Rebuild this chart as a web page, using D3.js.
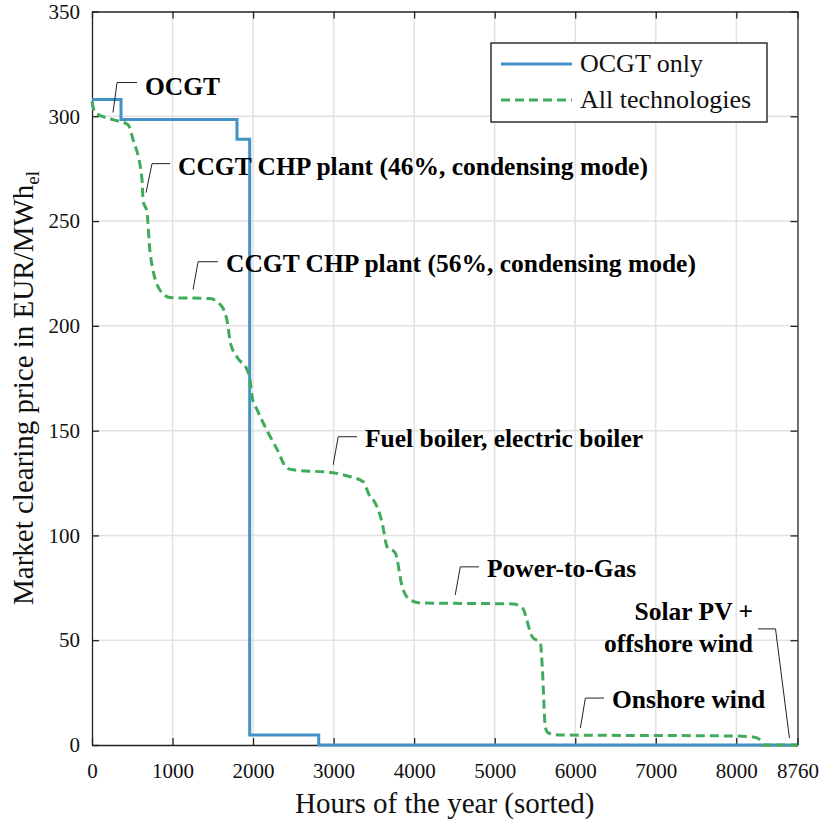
<!DOCTYPE html>
<html><head><meta charset="utf-8">
<script src="https://cdn.jsdelivr.net/npm/d3@7"></script>
<style>body{margin:0;background:#fff}</style>
</head><body>
<svg id="c" width="830" height="830"></svg>
<script>
// ---- data ----
const xTicks = [0,1000,2000,3000,4000,5000,6000,7000,8000,8760];
const yTicks = [0,50,100,150,200,250,300,350];
// OCGT only (step curve): hours, price
const ocgtHours = [0, 360, 360, 1800, 1800, 1958, 1958, 2815, 2815, 8760];
const ocgtPrice = [308, 308, 298.5, 298.5, 289, 289, 4.8, 4.8, 0, 0];
// All technologies (sorted price duration curve)
const allHours = [0,37,261,447,509,621,634,683,721,845,969,1466,1615,1690,1715,1802,1926,1963,1988,2050,2174,2299,2423,2497,2995,3206,3367,3454,3492,3603,3665,3765,3852,3951,4075,5231,5343,5467,5567,5591,5629,5666,5815,7965,8213,8300,8338,8760];
const allPrice = [307,301.8,298.4,296,289,270,260,254,235,217,213.5,213,209,199.6,192.4,185,179,174,166,160,150,141,132,131.3,129.9,128,125.6,118.4,117,106,94.5,91.7,75.4,69.2,67.8,67.3,65.4,51.6,48.7,37.2,8.6,5.7,4.8,4.3,3.8,2.4,0,0];
const seriesNames = ["OCGT only","All technologies"];
// annotations: label lines, anchor point on curve (hours, price), elbow of leader line
const annLabels = [["OCGT"],["CCGT CHP plant (46%, condensing mode)"],["CCGT CHP plant (56%, condensing mode)"],["Fuel boiler, electric boiler"],["Power-to-Gas"],["Onshore wind"],["Solar PV +","offshore wind"]];
const annAnchorH = [261, 671, 1255, 2995, 4510, 6064, 8660];
const annAnchorP = [301.8, 263.6, 217.3, 133.7, 71.6, 8.1, 3.3];
const annElbowH = [311, 745, 1317, 3057, 4573, 6126, 8487];
const annElbowP = [316.1, 277.4, 230.6, 147.1, 85, 22.4, 55.4];

// ---- layout ----
const W=830,H=830, L=92, R=797.5, T=11.5, B=745;
const svg=d3.select("#c");
const x=d3.scaleLinear().domain([0,8760]).range([L,R]);
const y=d3.scaleLinear().domain([0,350]).range([B,T]);
const serif="'Liberation Serif','Times New Roman',serif";

// grid
const g=svg.append("g");
g.selectAll(".gx").data(xTicks.slice(1,-1)).join("line")
 .attr("x1",d=>x(d)).attr("x2",d=>x(d)).attr("y1",T).attr("y2",B)
 .attr("stroke","#e2e2e2").attr("stroke-width",1.5);
g.selectAll(".gy").data(yTicks.slice(1,-1)).join("line")
 .attr("y1",d=>y(d)).attr("y2",d=>y(d)).attr("x1",L).attr("x2",R)
 .attr("stroke","#e2e2e2").attr("stroke-width",1.5);

// axes with inward ticks
const tl=7;
const xa=d3.axisBottom(x).tickValues(xTicks).tickFormat(d3.format("d")).tickSizeInner(-tl).tickSizeOuter(0).tickPadding(18);
const ya=d3.axisLeft(y).tickValues(yTicks).tickSizeInner(-tl).tickSizeOuter(0).tickPadding(12);
const xt=d3.axisTop(x).tickValues(xTicks).tickFormat("").tickSizeInner(-tl).tickSizeOuter(0);
const yr=d3.axisRight(y).tickValues(yTicks).tickFormat("").tickSizeInner(-tl).tickSizeOuter(0);
function style(sel){sel.selectAll("path").attr("stroke","#222").attr("stroke-width",1.3);
 sel.selectAll("line").attr("stroke","#222").attr("stroke-width",1.3);
 sel.selectAll("text").attr("font-family",serif).attr("font-size",21).attr("fill","#111");}
svg.append("g").attr("transform",`translate(0,${B})`).call(xa).call(style);
svg.append("g").attr("transform",`translate(${L},0)`).call(ya).call(style);
svg.append("g").attr("transform",`translate(0,${T})`).call(xt).call(style);
svg.append("g").attr("transform",`translate(${R},0)`).call(yr).call(style);

// lines
const ocgt=ocgtHours.map((h,i)=>[h,ocgtPrice[i]]);
const all=allHours.map((h,i)=>[h,allPrice[i]]);
const blue="#4292c6", green="#41ab5d";
svg.append("path").attr("d",d3.line().x(d=>x(d[0])).y(d=>y(d[1]))(ocgt))
 .attr("fill","none").attr("stroke",blue).attr("stroke-width",3);
svg.append("path").attr("d",d3.line().curve(d3.curveMonotoneX).x(d=>x(d[0])).y(d=>y(d[1]))(all))
 .attr("fill","none").attr("stroke",green).attr("stroke-width",3).attr("stroke-dasharray","9,5");

// annotations
const annText=[[145,95,"start"],[178,175,"start"],[226,272,"start"],[365,447,"start"],[487,577,"start"],[612,708,"start"],[753,620,"end"]];
annLabels.forEach((lines,i)=>{
  const ax=x(annAnchorH[i]), ay=y(annAnchorP[i]);
  const ex=x(annElbowH[i]), ey=y(annElbowP[i]);
  const [tx,ty,anc]=annText[i];
  const hx = anc==="start" ? tx-8 : tx+5;
  svg.append("polyline").attr("points",`${hx},${ey} ${ex},${ey} ${ax},${ay}`)
    .attr("fill","none").attr("stroke","#222").attr("stroke-width",1);
  lines.forEach((t,k)=>{
    svg.append("text").attr("x",tx).attr("y",ty+k*32)
     .attr("text-anchor",anc).attr("font-family",serif).attr("font-weight","bold")
     .attr("font-size",25.5).attr("fill","#000").text(t);
  });
});

// legend
svg.append("rect").attr("x",491).attr("y",43).attr("width",276).attr("height",79)
 .attr("fill","#fff").attr("stroke","#111").attr("stroke-width",1.3);
[[blue,null,64],[green,"9,5",100]].forEach((s,i)=>{
  svg.append("line").attr("x1",501).attr("x2",572).attr("y1",s[2]).attr("y2",s[2])
   .attr("stroke",s[0]).attr("stroke-width",3).attr("stroke-dasharray",s[1]);
  svg.append("text").attr("x",580).attr("y",s[2]).attr("dy","0.32em")
   .attr("font-family",serif).attr("font-size",26).attr("fill","#111").text(seriesNames[i]);
});

// axis titles
svg.append("text").attr("x",(L+R)/2).attr("y",813).attr("text-anchor","middle")
 .attr("font-family",serif).attr("font-size",29).attr("fill","#111").text("Hours of the year (sorted)");
const yt=svg.append("text").attr("transform",`translate(33,388) rotate(-90)`)
 .attr("text-anchor","middle").attr("font-family",serif).attr("font-size",29).attr("fill","#111");
yt.append("tspan").text("Market clearing price in EUR/MWh");
yt.append("tspan").attr("font-size",19).attr("dy",6).text("el");
</script>
</body></html>
